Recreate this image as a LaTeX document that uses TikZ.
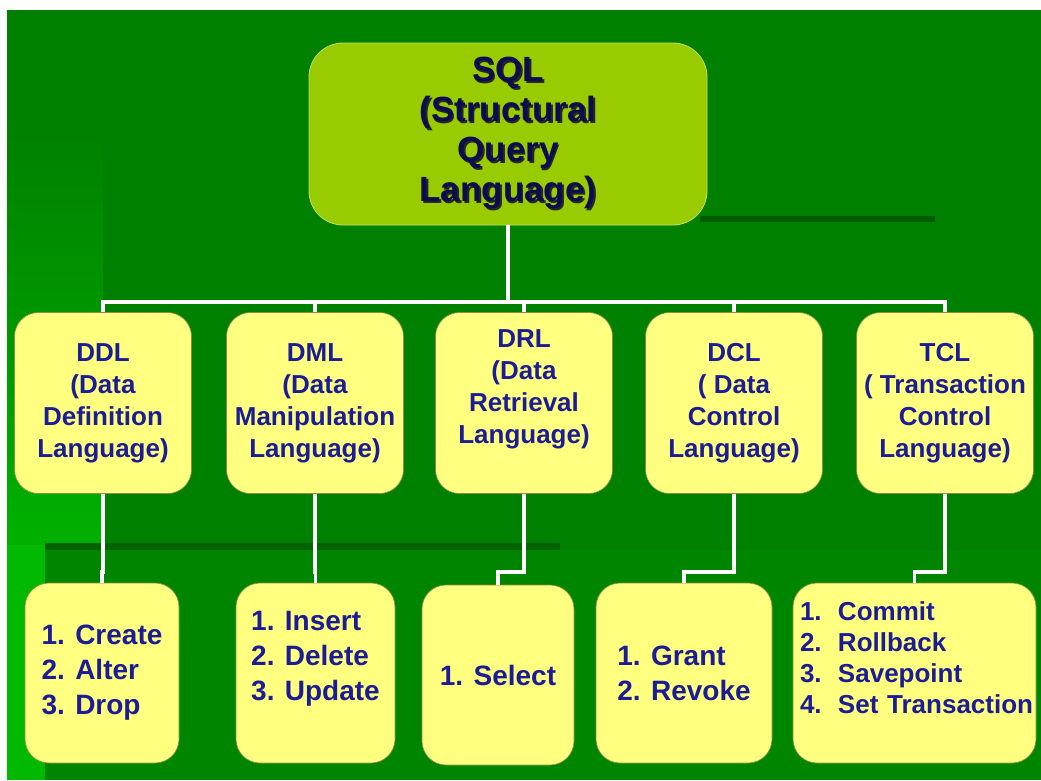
\documentclass[tikz,border=0pt]{standalone}
\usepackage{fontspec}
\setmainfont{Liberation Sans}
\definecolor{slidegreen}{RGB}{0,128,0}
\definecolor{leftgreen}{RGB}{0,185,0}
\definecolor{shadegreen}{RGB}{0,92,0}
\definecolor{rootfill}{RGB}{153,204,0}
\definecolor{boxfill}{RGB}{255,255,128}
\definecolor{inkblue}{RGB}{28,28,150}
\definecolor{rootink}{RGB}{12,12,80}
\newcommand{\rootline}[1]{\makebox[0pt][l]{\hspace{1.8pt}\raisebox{-1.8pt}{\color{black!85}#1}}#1}
\newcommand{\tclitem}[2]{\makebox[38pt][l]{#1}#2}

\begin{document}
\begin{tikzpicture}[x=1pt,y=-1pt,
    root/.style={draw=rootfill!60!white, line width=0.8pt, fill=rootfill,
      rounded corners=34pt, minimum width=398pt, minimum height=182pt,
      inner sep=0pt, align=center, text=rootink,
      font=\fontsize{35}{40}\selectfont\bfseries},
    langbox/.style={draw=boxfill!55!black, line width=0.6pt, fill=boxfill,
      rounded corners=24pt, minimum width=177pt, minimum height=181pt,
      inner sep=0pt, align=center, text=inkblue,
      font=\fontsize{26}{32}\selectfont\bfseries},
    cmdbox/.style={draw=boxfill!55!black, line width=0.6pt, fill=boxfill,
      rounded corners=24pt, minimum height=180pt,
      inner sep=0pt, align=left, text=inkblue,
      font=\fontsize{28}{35}\selectfont\bfseries},
    wire/.style={draw=white, line width=3.8pt}]
  \useasboundingbox (0,0) rectangle (1041,780);

  % slide background
  \fill[white] (0,0) rectangle (1041,780);
  \fill[slidegreen] (7,10) rectangle (1041,780);
  \shade[top color=slidegreen, bottom color=leftgreen!85!slidegreen] (7,120) rectangle (103,545);
  \fill[leftgreen] (7,545) rectangle (45,780);
  \fill[slidegreen!92!leftgreen] (45,550) rectangle (1041,780);
  \fill[shadegreen] (700,216) rectangle (935,222);
  \fill[shadegreen!80!slidegreen] (45,543) rectangle (560,550);

  \coordinate (bus) at (0,302);
  \coordinate (jog) at (0,572);

  % root
  \node[root] (sql) at (508,134)
    {\rootline{SQL}\\\rootline{(Structural}\\\rootline{Query}\\\rootline{Language)}};

  % languages
  \node[langbox] (ddl) at (103,403) {DDL\\(Data\\Definition\\Language)};
  \node[langbox] (dml) at (315,403) {DML\\(Data\\Manipulation\\Language)};
  \node[langbox] (drl) at (524,403) {DRL\\(Data\\Retrieval\\Language)\\\mbox{}};
  \node[langbox] (dcl) at (734,403) {DCL\\( Data\\Control\\Language)};
  \node[langbox] (tcl) at (945,403) {TCL\\( Transaction\\Control\\Language)};

  % commands
  \node[cmdbox, minimum width=154pt] (ddlcmd) at (102,673) {1. Create\\2. Alter\\3. Drop};
  \node[cmdbox, minimum width=159pt] (dmlcmd) at (315.5,673) {1. Insert\\2. Delete\\3. Update\\\mbox{}};
  \node[cmdbox, minimum width=152pt] (drlcmd) at (498,675) {1. Select};
  \node[cmdbox, minimum width=176pt] (dclcmd) at (684,673) {1. Grant\\2. Revoke};
  \node[cmdbox, text width=229pt, inner xsep=7pt, font=\fontsize{26}{31}\selectfont\bfseries]
    (tclcmd) at (914.5,673)
    {\tclitem{1.}{Commit}\\\tclitem{2.}{Rollback}\\\tclitem{3.}{Savepoint}\\\mbox{\tclitem{4.}{Set Transaction}}\\\mbox{}};

  % connectors
  \draw[wire] (sql.south) -- (sql.south |- bus);
  \draw[wire] (ddl.north) -- (ddl.north |- bus) -| (tcl.north);
  \foreach \lang in {dml,drl,dcl}
    \draw[wire] (\lang.north) -- (\lang.north |- bus);
  \foreach \lang in {ddl,dml,drl,dcl,tcl}
    \draw[wire] (\lang.south) -- (\lang.south |- jog) -| (\lang cmd.north);
\end{tikzpicture}
\end{document}
